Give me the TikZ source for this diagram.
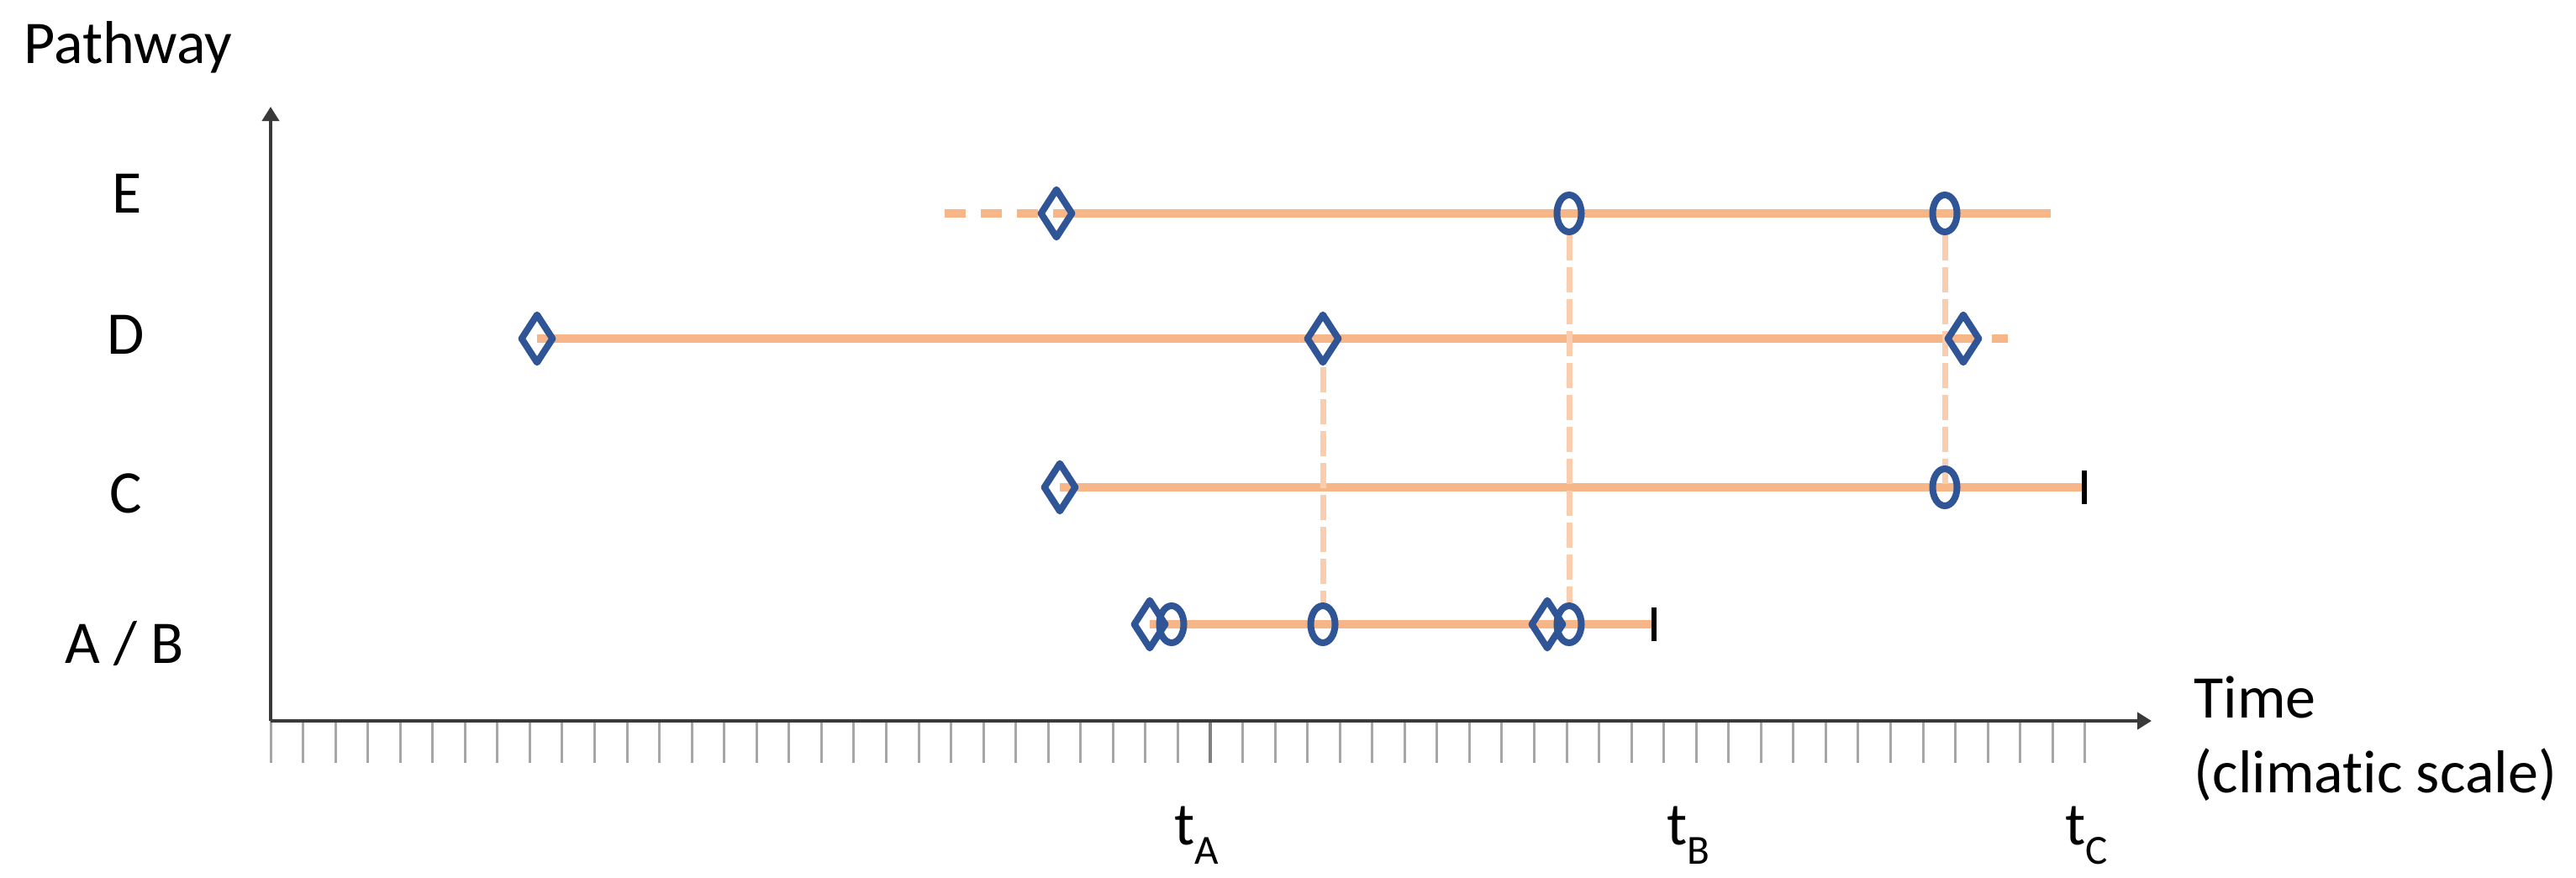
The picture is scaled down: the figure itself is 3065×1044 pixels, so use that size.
\documentclass[tikz,border=0pt]{standalone}
\usepackage{fontspec}
\setmainfont{Carlito}[Ligatures=NoCommon]
\usetikzlibrary{arrows.meta,shapes.geometric}
\definecolor{lineor}{HTML}{F6B688}
\definecolor{vor}{HTML}{F9CDAE}
\definecolor{mkblue}{HTML}{2F5597}
\definecolor{axgray}{HTML}{3A3A3A}
\definecolor{tickgray}{HTML}{A6A6A6}
\pgfdeclarelayer{bg}
\pgfsetlayers{bg,main}
\tikzset{
  lbl/.style={inner sep=0pt, font=\fontsize{20.5}{25}\selectfont},
  dmd/.style={shape=diamond, draw=mkblue, line width=0.08cm, fill=none, inner sep=0pt,
              minimum width=0.4cm, minimum height=0.6cm, line join=round},
  circ/.style={shape=ellipse, draw=mkblue, line width=0.08cm, inner sep=0pt,
              minimum width=0.29cm, minimum height=0.44cm},
  pathline/.style={draw=lineor, line width=0.1cm},
  pathdash/.style={draw=lineor, line width=0.1cm, dash pattern=on 0.25cm off 0.18cm},
  pathdashb/.style={draw=lineor, line width=0.1cm, dash pattern=on 0.19cm off 0.15cm},
  vline/.style={draw=vor, line width=0.07cm, dash pattern=on 0.3cm off 0.08cm},
  axisline/.style={draw=axgray, line width=0.04cm, -{Triangle[length=0.17cm,width=0.2cm]}},
  tickline/.style={draw=tickgray, line width=0.03cm},
  endtick/.style={draw=black, line width=0.06cm},
}
\newcommand{\tsub}[2]{#1\raisebox{-0.32em}{\fontsize{14}{14}\selectfont #2}}
\begin{document}
\begin{tikzpicture}[x=0.01cm,y=-0.01cm]
\useasboundingbox (0,0) rectangle (3065,1044);

% axes
\coordinate (orig) at (322,858);
\coordinate (ytip) at (322,127);
\coordinate (xtip) at (2560,858);
\foreach \k in {0,...,56} {
  \draw[tickline] ({322+38.55*\k},858) -- ++(0,50);
}
\draw[draw=gray, line width=0.035cm] ({322+38.55*29},858) -- ++(0,50);
\draw[axisline] (orig) -- (ytip);
\draw[axisline] (orig) -- (xtip);

% labels
\node[lbl, anchor=base west] (pw) at (28,75) {Pathway};
\node[lbl, anchor=base] (lE) at (151,253) {E};
\node[lbl, anchor=base] (lD) at (150,421) {D};
\node[lbl, anchor=base] (lC) at (150,610) {C};
\node[lbl, anchor=base] (lAB) at (148,789) {A / B};
\node[lbl, anchor=base west] (tm) at (2610,854) {Time};
\node[lbl, anchor=base west] (cs) at (2610,943) {(climat\kern0pt ic scale)};
\node[lbl, anchor=base west] (tA) at (1397,1005) {\tsub{t}{A}};
\node[lbl, anchor=base west] (tB) at (1983,1005) {\tsub{t}{B}};
\node[lbl, anchor=base west] (tC) at (2457,1005) {\tsub{t}{C}};

% row E
\coordinate (Es) at (1124,254);
\coordinate (Ee) at (2440,254);
\node[dmd] (E1) at (1257,254) {};
\node[circ] (E2) at (1867,254) {};
\node[circ] (E3) at (2314,254) {};
% row D
\coordinate (De) at (2404,403);
\node[dmd] (D1) at (639,403) {};
\node[dmd] (D2) at (1574,403) {};
\node[dmd] (D3) at (2336,403) {};
% row C
\coordinate (Ce) at (2480,580);
\node[dmd] (C1) at (1261,580) {};
\node[circ] (C2) at (2314,580) {};
% row A/B
\coordinate (ABe) at (1968,743);
\node[dmd] (AB1) at (1368,743) {};
\node[circ] (AB2) at (1394,743) {};
\node[circ] (AB3) at (1574,743) {};
\node[dmd] (AB4) at (1841,743) {};
\node[circ] (AB5) at (1867,743) {};

\begin{pgfonlayer}{bg}
  \draw[pathdash] (Es) -- (E1.center);
  \draw[pathline] (E1.center) -- (Ee);
  \draw[pathline] (D1.center) -- (D3.center);
  \draw[pathdashb] (D3.center) -- (De);
  \draw[pathline] (C1.center) -- (Ce);
  \draw[pathline] (AB1.center) -- (ABe);
  \draw[vline] (D2.south) -- (AB3.north);
  \draw[vline] (E2.south) -- (AB5.north);
  \draw[vline] (E3.south) -- (C2.center);
\end{pgfonlayer}

\draw[endtick] (Ce) ++(0,-20) -- ++(0,40);
\draw[endtick] (ABe) ++(0,-20) -- ++(0,40);
\end{tikzpicture}
\end{document}
